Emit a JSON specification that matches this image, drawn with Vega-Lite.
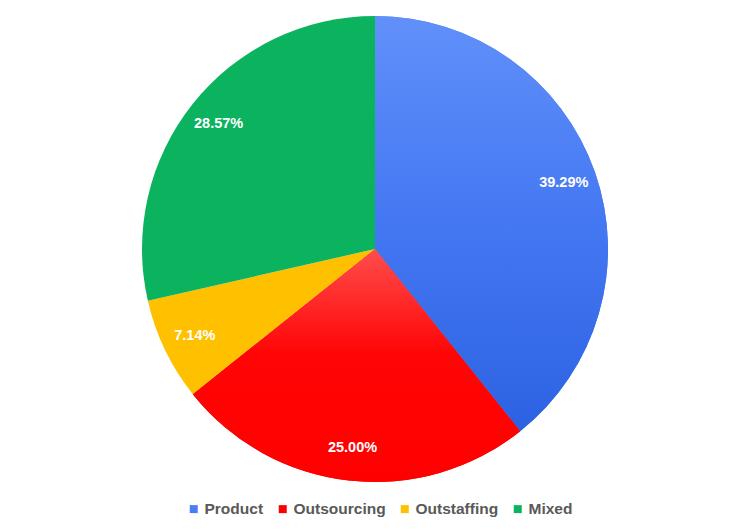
{
  "$schema": "https://vega.github.io/schema/vega-lite/v6.json",
  "width": 750,
  "height": 498,
  "padding": {"top": 0, "left": 0, "right": 0, "bottom": 33},
  "autosize": {"type": "none"},
  "background": "#ffffff",
  "data": {
    "values": [
      {"segment": "Product", "share": 0.3929, "rank": 1},
      {"segment": "Outsourcing", "share": 0.25, "rank": 2},
      {"segment": "Outstaffing", "share": 0.0714, "rank": 3},
      {"segment": "Mixed", "share": 0.2857, "rank": 4}
    ]
  },
  "encoding": {
    "theta": {"field": "share", "type": "quantitative", "stack": true},
    "order": {"field": "rank", "type": "quantitative"}
  },
  "layer": [
    {
      "mark": {"type": "arc", "outerRadius": 233},
      "encoding": {
        "color": {
          "field": "segment",
          "type": "nominal",
          "scale": {
            "domain": ["Product", "Outsourcing", "Outstaffing", "Mixed"],
            "range": ["#4a7ef5", "#ff0000", "#ffc000", "#0bb35e"]
          },
          "legend": {
            "title": null,
            "orient": "none",
            "legendX": 186,
            "legendY": 501,
            "direction": "horizontal",
            "symbolType": "square",
            "symbolSize": 64,
            "symbolStrokeWidth": 0,
            "labelFont": "Liberation Sans",
            "labelFontSize": 15.5,
            "labelFontWeight": "bold",
            "labelColor": "#595959",
            "labelOffset": 3,
            "columnPadding": 11
          }
        }
      }
    },
    {
      "mark": {"type": "arc", "outerRadius": 233},
      "encoding": {
        "fill": {
          "condition": [
            {
              "test": "datum.segment === 'Product'",
              "value": {
                "gradient": "linear", "x1": 0, "y1": 0, "x2": 0, "y2": 1,
                "stops": [
                  {"offset": 0, "color": "#6190fa"},
                  {"offset": 0.5, "color": "#4477f2"},
                  {"offset": 1, "color": "#2c62e2"}
                ]
              }
            },
            {
              "test": "datum.segment === 'Outsourcing'",
              "value": {
                "gradient": "linear", "x1": 0, "y1": 0, "x2": 0, "y2": 1,
                "stops": [
                  {"offset": 0, "color": "#ff4d4d"},
                  {"offset": 0.45, "color": "#ff0505"},
                  {"offset": 1, "color": "#ff0000"}
                ]
              }
            }
          ],
          "value": null
        }
      }
    },
    {
      "mark": {
        "type": "text",
        "radius": 200,
        "font": "Liberation Sans",
        "fontSize": 14.5,
        "fontWeight": "bold",
        "color": "#ffffff"
      },
      "encoding": {
        "text": {"field": "share", "type": "quantitative", "format": ".2%"}
      }
    }
  ]
}
